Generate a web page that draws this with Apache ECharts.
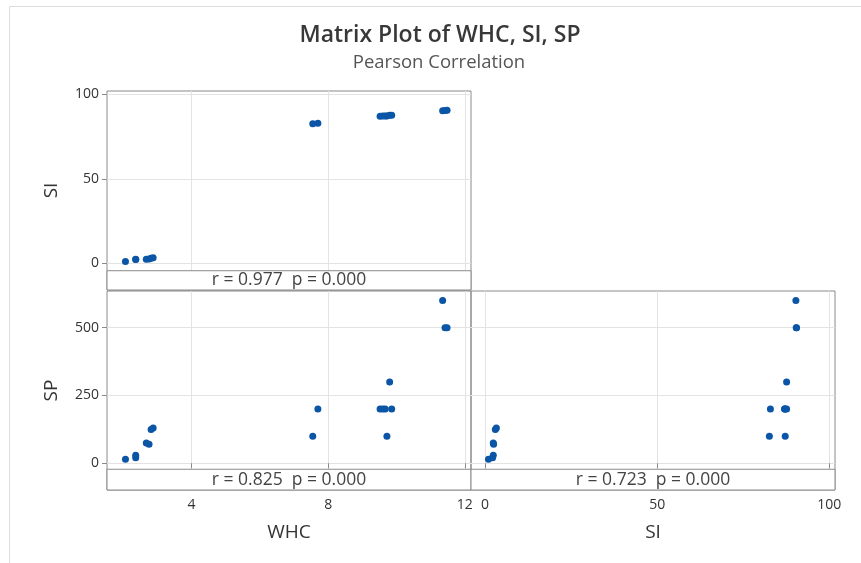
<!DOCTYPE html>
<html>
<head>
<meta charset="utf-8">
<title>Matrix Plot of WHC, SI, SP</title>
<script src="https://cdn.jsdelivr.net/npm/echarts@6/dist/echarts.min.js"></script>
<style>
  html, body { margin: 0; padding: 0; background: #fff; }
  #main { width: 861px; height: 563px; }
</style>
</head>
<body>
<div id="main"></div>
<script>
const whc = [2.07, 2.37, 2.37, 2.68, 2.76, 2.82, 2.88, 7.55, 7.70, 9.52, 9.60, 9.67, 9.72, 9.80, 9.86, 11.35, 11.42, 11.48];
const si = [1.0, 2.2, 2.4, 2.4, 2.5, 3.0, 3.3, 82.6, 82.9, 87.0, 87.1, 87.2, 87.2, 87.6, 87.6, 90.3, 90.4, 90.5];
const sp = [15, 20, 30, 75, 70, 125, 130, 100, 200, 200, 200, 200, 100, 300, 200, 600, 500, 500];

// tick labels
const whcTicks = [4, 8, 12];
const siTicks = [0, 50, 100];
const spTicks = [0, 250, 500];

// correlation text under each panel
const corrText = ['r = 0.977  p = 0.000', 'r = 0.825  p = 0.000', 'r = 0.723  p = 0.000'];

const frameColor = '#8a8a8a';
const gridColor = '#e3e3e3';
const dotColor = '#0b55a6';
const fontFamily = '"Open Sans", "Noto Sans", sans-serif';

const myChart = echarts.init(document.getElementById('main'), null, { renderer: 'canvas' });

function axis(gridIndex, min, max, ticks, opts) {
  opts = opts || {};
  return {
    type: 'value',
    gridIndex: gridIndex,
    min: min,
    max: max,
    name: opts.name || '',
    nameLocation: 'middle',
    nameGap: opts.nameGap || 36,
    nameTextStyle: { fontSize: 19, color: '#333', fontFamily: fontFamily },
    axisLine: { show: false },
    axisTick: {
      show: opts.labels !== false,
      customValues: ticks,
      length: 5,
      lineStyle: { color: frameColor }
    },
    axisLabel: {
      show: opts.labels !== false,
      customValues: ticks,
      fontSize: 14,
      color: '#333',
      margin: 8,
      fontFamily: fontFamily
    },
    splitLine: { show: true, lineStyle: { color: gridColor, width: 1 } }
  };
}

function pairs(xs, ys) {
  return xs.map((x, i) => [x, ys[i]]);
}

function panel(idx, xs, ys, boxTop, boxBottom) {
  return {
    type: 'scatter',
    xAxisIndex: idx,
    yAxisIndex: idx,
    symbolSize: 7,
    itemStyle: { color: dotColor, opacity: 1 },
    data: pairs(xs, ys),
    markArea: {
      silent: true,
      itemStyle: { color: '#fff', opacity: 1, borderColor: frameColor, borderWidth: 1 },
      label: {
        show: true,
        position: 'inside',
        fontSize: 17.5,
        color: '#444',
        fontFamily: fontFamily
      },
      data: [[{ yAxis: boxBottom, name: corrText[idx] }, { yAxis: boxTop }]]
    }
  };
}

const gridStyle = { show: true, borderColor: frameColor, borderWidth: 1, backgroundColor: 'transparent', containLabel: false };

const option = {
  backgroundColor: '#fff',
  animation: false,
  graphic: [
    {
      type: 'rect',
      shape: { x: 9.5, y: 6.5, width: 900, height: 600 },
      style: { fill: 'none', stroke: '#dcdcdc', lineWidth: 1 },
      silent: true
    },
    {
      type: 'text',
      x: 440, y: 35,
      style: { text: 'Matrix Plot of WHC, SI, SP', fill: '#383838', font: '600 23px ' + fontFamily, textAlign: 'center', textVerticalAlign: 'middle' }
    },
    {
      type: 'text',
      x: 439, y: 63,
      style: { text: 'Pearson Correlation', fill: '#555', font: '18.5px ' + fontFamily, textAlign: 'center', textVerticalAlign: 'middle' }
    }
  ],
  grid: [
    Object.assign({ left: 107, top: 91, width: 364, height: 199 }, gridStyle),
    Object.assign({ left: 107, top: 291, width: 364, height: 199 }, gridStyle),
    Object.assign({ left: 471, top: 291, width: 364, height: 199 }, gridStyle)
  ],
  xAxis: [
    axis(0, 1.53, 12.18, whcTicks, { labels: false }),
    axis(1, 1.53, 12.18, whcTicks, { name: 'WHC', nameGap: 33 }),
    axis(2, -4.07, 101.66, siTicks, { name: 'SI', nameGap: 33 })
  ],
  yAxis: [
    axis(0, -15.8, 101.95, siTicks, { name: 'SI', nameGap: 46 }),
    axis(1, -98.5, 635.3, spTicks, { name: 'SP', nameGap: 46 }),
    axis(2, -98.5, 635.3, spTicks, { labels: false })
  ],
  series: [
    panel(0, whc, si, -4.4, -15.8),
    panel(1, whc, sp, -22, -98.5),
    panel(2, si, sp, -22, -98.5)
  ]
};

option && myChart.setOption(option);
</script>
</body>
</html>
